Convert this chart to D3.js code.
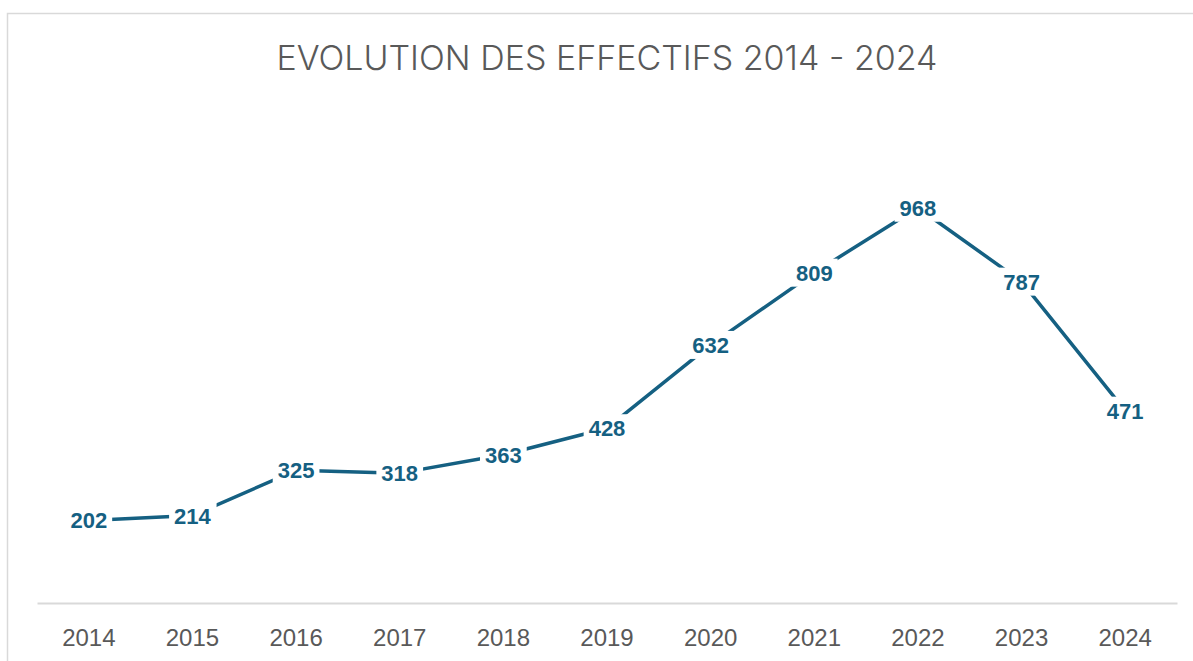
<!DOCTYPE html>
<html>
<head>
<meta charset="utf-8">
<script src="https://cdn.jsdelivr.net/npm/d3@7"></script>
<style>
  html, body { margin: 0; padding: 0; background: #fff; }
  #container { width: 1193px; height: 661px; }
</style>
</head>
<body>
<div id="container"></div>
<script>
const years = ["2014", "2015", "2016", "2017", "2018", "2019", "2020", "2021", "2022", "2023", "2024"];
const effectifs = [202, 214, 325, 318, 363, 428, 632, 809, 968, 787, 471];
const yDomain = [0, 1200];
const title = "EVOLUTION DES EFFECTIFS 2014 - 2024";

const width = 1193;
const height = 661;
const margin = { top: 113, right: 16, bottom: 58, left: 37 };

const svg = d3.create("svg")
    .attr("width", width)
    .attr("height", height)
    .attr("viewBox", `0 0 ${width} ${height}`);

document.getElementById("container").append(svg.node());

// chart frame
svg.append("rect")
    .attr("x", 7.5).attr("y", 13.5)
    .attr("width", width + 10).attr("height", height + 10)
    .attr("fill", "#fff")
    .attr("stroke", "#d9d9d9")
    .attr("stroke-width", 1.5);

svg.append("text")
    .attr("x", 607).attr("y", 70)
    .attr("text-anchor", "middle")
    .attr("font-family", "Inter, 'Liberation Sans', sans-serif")
    .attr("font-weight", 350)
    .attr("font-size", 34)
    .attr("fill", "#595959")
    .text(title);

const x = d3.scaleBand()
    .domain(years)
    .range([margin.left, width - margin.right]);

const y = d3.scaleLinear()
    .domain(yDomain)
    .range([height - margin.bottom, margin.top]);

const xAxis = svg.append("g")
    .attr("transform", `translate(0,${y(0)})`)
    .call(d3.axisBottom(x).tickSize(0).tickPadding(26));
xAxis.select(".domain").attr("stroke", "#d9d9d9").attr("stroke-width", 2);
xAxis.selectAll("text")
    .attr("font-family", "'Liberation Sans', Arial, sans-serif")
    .attr("font-size", 24)
    .attr("fill", "#595959");

const data = years.map((yr, i) => ({ year: yr, value: effectifs[i] }));

const line = d3.line()
    .x(d => x(d.year) + x.bandwidth() / 2)
    .y(d => y(d.value));

svg.append("path")
    .datum(data)
    .attr("d", line)
    .attr("fill", "none")
    .attr("stroke", "#156082")
    .attr("stroke-width", 3.5)
    .attr("stroke-linejoin", "round");

const labels = svg.append("g")
    .selectAll("g")
    .data(data)
    .join("g")
    .attr("transform", d => `translate(${x(d.year) + x.bandwidth() / 2},${y(d.value)})`);

const bg = labels.append("rect").attr("fill", "#fff");

const txt = labels.append("text")
    .attr("text-anchor", "middle")
    .attr("dy", "0.36em")
    .attr("font-family", "'Liberation Sans', Arial, sans-serif")
    .attr("font-weight", "bold")
    .attr("font-size", 22)
    .attr("fill", "#156082")
    .text(d => d.value);

txt.each(function() {
    const b = this.getBBox();
    d3.select(this.previousSibling)
        .attr("x", b.x - 5).attr("y", -14)
        .attr("width", b.width + 10).attr("height", 28);
});
</script>
</body>
</html>
